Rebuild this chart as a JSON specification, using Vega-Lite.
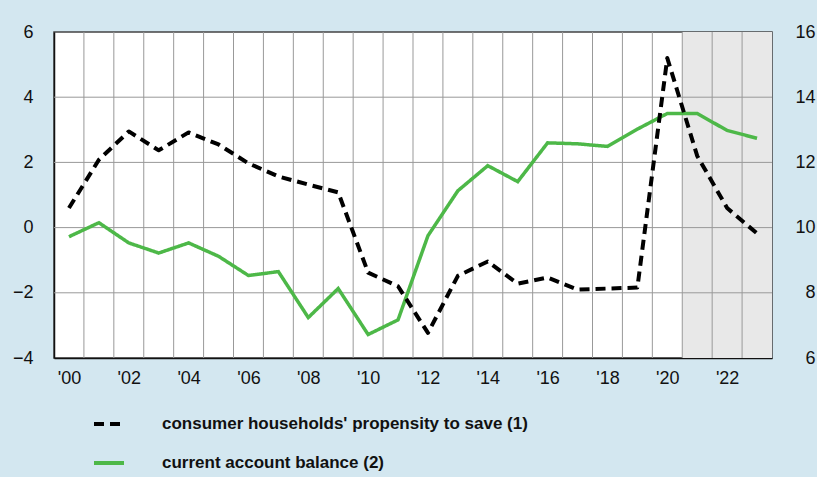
{
  "$schema": "https://vega.github.io/schema/vega-lite/v6.json",
  "width": 718,
  "height": 326,
  "autosize": {"type": "none"},
  "padding": {"left": 54, "top": 32, "right": 45, "bottom": 119},
  "background": "#d3e7f0",
  "config": {
    "view": {"fill": "white", "stroke": "#444", "strokeWidth": 1.5},
    "font": "Liberation Sans",
    "axis": {"labelFont": "Liberation Sans", "labelFontSize": 18, "labelColor": "#111", "ticks": false, "tickSize": 0, "grid": false, "title": null}
  },
  "datasets": {
    "series": [
      {"year": 2000, "cab": -0.28, "save": 10.6},
      {"year": 2001, "cab": 0.15, "save": 12.08},
      {"year": 2002, "cab": -0.47, "save": 12.95},
      {"year": 2003, "cab": -0.78, "save": 12.37},
      {"year": 2004, "cab": -0.47, "save": 12.92},
      {"year": 2005, "cab": -0.88, "save": 12.55},
      {"year": 2006, "cab": -1.47, "save": 11.97},
      {"year": 2007, "cab": -1.35, "save": 11.57},
      {"year": 2008, "cab": -2.76, "save": 11.32},
      {"year": 2009, "cab": -1.87, "save": 11.08},
      {"year": 2010, "cab": -3.28, "save": 8.62},
      {"year": 2011, "cab": -2.83, "save": 8.2},
      {"year": 2012, "cab": -0.25, "save": 6.77},
      {"year": 2013, "cab": 1.13, "save": 8.52},
      {"year": 2014, "cab": 1.9, "save": 8.96},
      {"year": 2015, "cab": 1.41, "save": 8.28},
      {"year": 2016, "cab": 2.6, "save": 8.47},
      {"year": 2017, "cab": 2.57, "save": 8.1},
      {"year": 2018, "cab": 2.49, "save": 8.13},
      {"year": 2019, "cab": 3.02, "save": 8.16},
      {"year": 2020, "cab": 3.5, "save": 15.2},
      {"year": 2021, "cab": 3.5, "save": 12.2},
      {"year": 2022, "cab": 2.98, "save": 10.6},
      {"year": 2023, "cab": 2.74, "save": 9.82}
    ],
    "shade": [{"start": 2020.5, "end": 2023.5}],
    "vgrid": [
      {"x": 2000.5}, {"x": 2001.5}, {"x": 2002.5}, {"x": 2003.5}, {"x": 2004.5}, {"x": 2005.5},
      {"x": 2006.5}, {"x": 2007.5}, {"x": 2008.5}, {"x": 2009.5}, {"x": 2010.5}, {"x": 2011.5},
      {"x": 2012.5}, {"x": 2013.5}, {"x": 2014.5}, {"x": 2015.5}, {"x": 2016.5}, {"x": 2017.5},
      {"x": 2018.5}, {"x": 2019.5}, {"x": 2020.5}, {"x": 2021.5}, {"x": 2022.5}
    ],
    "hgrid": [{"y": -2}, {"y": 0}, {"y": 2}, {"y": 4}]
  },
  "layer": [
    {
      "data": {"name": "shade"},
      "mark": {"type": "rect", "color": "#e8e8e8"},
      "encoding": {
        "x": {"field": "start", "type": "quantitative", "scale": {"domain": [1999.5, 2023.5], "nice": false, "zero": false},
              "axis": {"values": [2000, 2002, 2004, 2006, 2008, 2010, 2012, 2014, 2016, 2018, 2020, 2022],
                       "labelExpr": "\"'\" + substring(toString(datum.value), 2)", "labelPadding": 11,
                       "domainColor": "#111", "domainWidth": 1.5, "title": null}},
        "x2": {"field": "end"}
      }
    },
    {
      "data": {"name": "vgrid"},
      "mark": {"type": "rule", "color": "#999", "strokeWidth": 1},
      "encoding": {"x": {"field": "x", "type": "quantitative"}}
    },
    {
      "data": {"name": "hgrid"},
      "mark": {"type": "rule", "color": "#999", "strokeWidth": 1},
      "encoding": {"y": {"field": "y", "type": "quantitative", "scale": {"domain": [-4, 6], "nice": false, "zero": false}, "axis": null}}
    },
    {
      "data": {"name": "series"},
      "mark": {"type": "line", "strokeWidth": 3.5},
      "encoding": {
        "x": {"field": "year", "type": "quantitative"},
        "y": {"field": "cab", "type": "quantitative", "scale": {"domain": [-4, 6], "nice": false, "zero": false},
              "axis": {"orient": "left", "values": [-4, -2, 0, 2, 4, 6], "labelPadding": 21, "domainColor": "#111", "domainWidth": 1.5, "title": null}},
        "color": {"datum": "current account balance (2)", "type": "nominal",
                  "scale": {"domain": ["consumer households' propensity to save (1)", "current account balance (2)"], "range": ["#000000", "#4db848"]},
                  "legend": {"orient": "none", "legendX": 38, "legendY": 375, "title": null, "symbolType": "stroke", "symbolSize": 900, "symbolStrokeWidth": 4,
                             "labelFontSize": 17, "labelFontWeight": "bold", "labelFont": "Liberation Sans", "labelColor": "#111", "labelOffset": 36, "labelLimit": 0, "rowPadding": 14, "padding": 0}},
        "strokeDash": {"datum": "current account balance (2)", "type": "nominal",
                       "scale": {"domain": ["consumer households' propensity to save (1)", "current account balance (2)"], "range": [[10, 6], [1, 0]]},
                       "legend": {"orient": "none", "legendX": 38, "legendY": 375, "title": null, "symbolType": "stroke", "symbolSize": 900, "symbolStrokeWidth": 4,
                                  "labelFontSize": 17, "labelFontWeight": "bold", "labelFont": "Liberation Sans", "labelColor": "#111", "labelOffset": 36, "labelLimit": 0, "rowPadding": 14, "padding": 0}}
      }
    },
    {
      "data": {"name": "series"},
      "mark": {"type": "line", "strokeWidth": 4, "strokeCap": "butt", "strokeJoin": "round"},
      "encoding": {
        "x": {"field": "year", "type": "quantitative"},
        "y": {"field": "save", "type": "quantitative", "scale": {"domain": [6, 16], "nice": false, "zero": false},
              "axis": {"orient": "right", "values": [6, 8, 10, 12, 14, 16], "labelAlign": "right", "labelPadding": 43, "domain": false, "title": null}},
        "color": {"datum": "consumer households' propensity to save (1)", "type": "nominal"},
        "strokeDash": {"datum": "consumer households' propensity to save (1)", "type": "nominal"}
      }
    }
  ],
  "resolve": {"scale": {"y": "independent"}}
}
